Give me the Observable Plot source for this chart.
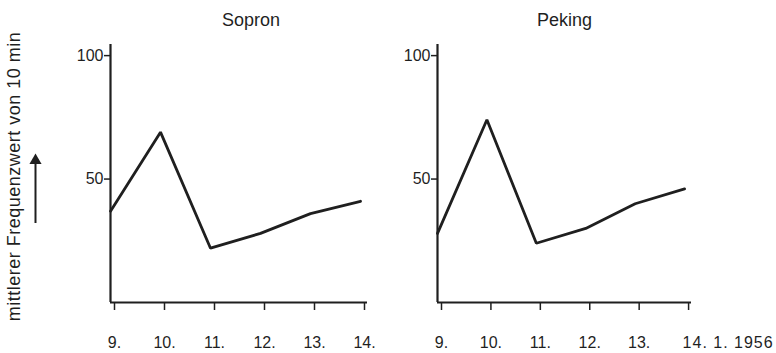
<!DOCTYPE html>
<html>
<head>
<meta charset="utf-8">
<script src="https://cdn.jsdelivr.net/npm/d3@7"></script>
<script src="https://cdn.jsdelivr.net/npm/@observablehq/plot@0.6"></script>
<style>
  html, body { margin: 0; padding: 0; background: #fff; }
  #chart { position: relative; width: 776px; height: 353px; overflow: hidden; }
  #chart svg { position: absolute; top: 0; background: transparent; }
</style>
</head>
<body>
<div id="chart"></div>
<script>
// Data
const days = [9, 10, 11, 12, 13, 14];
const sopron = [37, 69, 22, 28, 36, 41];
const peking = [28, 74, 24, 30, 40, 46];
const titles = ["Sopron", "Peking"];
const yTicks = [50, 100];
const yLabel = "mittlerer Frequenzwert von 10 min";
const lastLabel = "14. 1. 1956";
const arrowSpec = [{x: 7.5, y1: 32, y2: 56}];
const arrowTip = [{x: 7.5, y: 57.5}];

const ink = "#1f1f1f";
const font = "'Liberation Sans', Arial, sans-serif";

function panel({title, values, width, marginLeft, marginRight, titleDx, showYLabel, dateLabel}) {
  const data = days.map((d, i) => ({day: d, value: values[i]}));
  const marks = [
    Plot.ruleX([9], {stroke: ink, strokeWidth: 2.2}),
    Plot.ruleY([0], {stroke: ink, strokeWidth: 2.2}),
    Plot.axisY({ticks: yTicks, tickSize: 6, tickPadding: 1, tickFormat: d => String(d), fontSize: 16, stroke: ink, strokeWidth: 1.5, color: ink, label: null}),
    Plot.axisX({ticks: days, tickSize: 8, tickPadding: 26, dx: 4,
      tickFormat: d => (dateLabel && d === 14) ? "" : d + ".", fontSize: 16, stroke: ink, strokeWidth: 1.5, color: ink, label: null}),
    Plot.line(data, {x: "day", y: "value", stroke: ink, strokeWidth: 2.8, strokeLinejoin: "miter"}),
    Plot.text([title], {frameAnchor: "top", dx: titleDx, dy: -24, fontSize: 18, fill: ink, lineAnchor: "middle"})
  ];
  if (dateLabel) {
    marks.push(Plot.text([lastLabel], {x: () => 14, y: () => 0, textAnchor: "start", lineAnchor: "middle", dx: -2, dy: 40, fontSize: 16, fill: ink}));
  }
  if (showYLabel) {
    marks.push(Plot.text([yLabel], {frameAnchor: "left", textAnchor: "middle", rotate: -90, dx: -96, dy: 3, fontSize: 18, fill: ink, lineAnchor: "middle"}));
    marks.push(Plot.ruleX(arrowSpec, {x: "x", y1: "y1", y2: "y2", stroke: ink, strokeWidth: 2}));
    marks.push(Plot.dot(arrowTip, {x: "x", y: "y", symbol: "triangle", r: 4.5, fill: ink, stroke: null}));
  }
  const svg = Plot.plot({
    width, height: 353,
    marginLeft, marginRight, marginTop: 44, marginBottom: 51,
    style: {fontFamily: font, fontSize: "16px", color: ink, background: "transparent", overflow: "visible"},
    x: {domain: [9, 14.14], axis: null},
    y: {domain: [0, 104.5], axis: null},
    marks
  });
  svg.querySelectorAll("text").forEach(t => {
    if (t.textContent === lastLabel) t.setAttribute("letter-spacing", "1px");
    if (t.textContent === yLabel) t.setAttribute("letter-spacing", "0.5px");
  });
  return svg;
}

const chart = document.getElementById("chart");
const p1 = panel({title: titles[0], values: sopron, width: 388, marginLeft: 110, marginRight: 21, titleDx: 12, showYLabel: true, dateLabel: false});
p1.style.left = "0px";
const p2 = panel({title: titles[1], values: peking, width: 396, marginLeft: 57, marginRight: 85, titleDx: 0, showYLabel: false, dateLabel: true});
p2.style.left = "380px";
chart.appendChild(p1);
chart.appendChild(p2);
</script>
</body>
</html>
